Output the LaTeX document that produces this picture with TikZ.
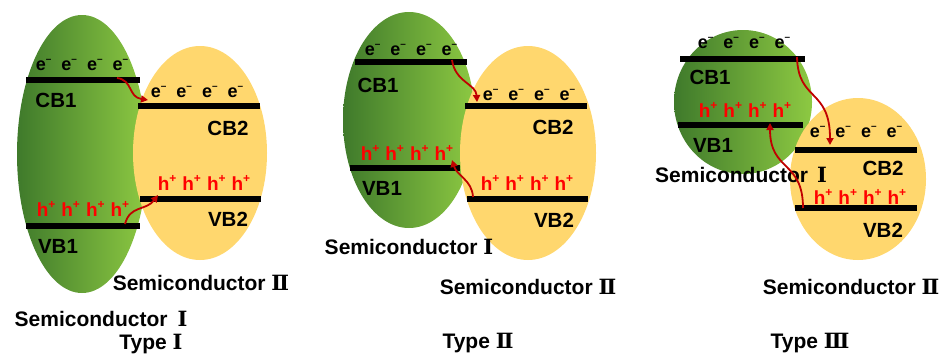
\documentclass[tikz,border=0pt]{standalone}
\usepackage{fontspec}
\setmainfont{Liberation Sans}
\newfontfamily\numfont{DejaVu Serif}
\usetikzlibrary{arrows.meta}
\definecolor{gdark}{HTML}{3F7A2B}
\definecolor{glight}{HTML}{8DC942}
\definecolor{yell}{HTML}{FFD76E}
\definecolor{arrowred}{HTML}{C00000}
\definecolor{holered}{HTML}{FF0000}
% charge carriers with raised signs
\newcommand\elc{e\raisebox{0.48em}{\fontsize{10}{10}\selectfont\textendash}}
\newcommand\hol{h\raisebox{0.45em}{\fontsize{12}{12}\selectfont +}}
\newcommand\erow{\elc\hspace{10pt}\elc\hspace{10pt}\elc\hspace{10pt}\elc}
\newcommand\hrow{\hol\hspace{6pt}\hol\hspace{6pt}\hol\hspace{6pt}\hol}
\newcommand\rmn[1]{{\numfont\bfseries #1}}
\begin{document}
\begin{tikzpicture}[x=1pt,y=-1pt,
  every node/.style={inner sep=0pt,font=\fontsize{19}{22}\selectfont\bfseries},
  bar/.style={fill=black,minimum height=6pt,anchor=west},
  elrow/.style={text=black,font=\fontsize{18}{22}\selectfont\bfseries},
  horow/.style={text=holered,font=\fontsize{19}{22}\selectfont\bfseries},
  band/.style={text=black,font=\fontsize{20.5}{22}\selectfont\bfseries},
  semi/.style={text=black,font=\fontsize{21}{24}\selectfont\bfseries},
  flow/.style={draw=arrowred,line width=1.8pt,-{Triangle[length=7pt,width=7pt]}},
  green ell/.style={left color=gdark,right color=glight},
  yellow ell/.style={fill=yell}]
\useasboundingbox (0,0) rectangle (944,356);

% ---------- Type I ----------
\path[green ell] (82,154) ellipse [x radius=65pt, y radius=139pt];
\path[yellow ell] (200,153) ellipse [x radius=67pt, y radius=107pt];
\node[bar,minimum width=114pt] (cb1a) at (26,80) {};
\node[bar,minimum width=122pt] (cb2a) at (138,106) {};
\node[bar,minimum width=121pt] (vb2a) at (140,199) {};
\node[bar,minimum width=114pt] (vb1a) at (26,226) {};
\node[elrow] (ea1) at (82,65) {\erow};
\node[elrow] (ea2) at (197,92) {\erow};
\node[horow] (ha2) at (204,183) {\hrow};
\node[horow] (ha1) at (83,209) {\hrow};
\node[band] (lcb1a) at (56,100) {CB1};
\node[band] (lcb2a) at (228,128) {CB2};
\node[band] (lvb2a) at (228,219) {VB2};
\node[band] (lvb1a) at (58,246) {VB1};
\node[semi] (s2a) at (201,283) {Semiconductor \rmn{Ⅱ}};
\node[semi] (s1a) at (101,319) {Semiconductor\hspace{10pt}\rmn{Ⅰ}};
\node[semi] (ta) at (151,344) {Type \rmn{Ⅰ}};
\coordinate (ea-s) at (117,78);
\coordinate (ea-e) at (148,100);
\coordinate (ha-s) at (125,224);
\coordinate (ha-e) at (158,195);
\draw[flow] (ea-s) .. controls (133,80) and (128,97) .. (ea-e);
\draw[flow] (ha-s) .. controls (130,205) and (146,211) .. (ha-e);

% ---------- Type II ----------
\path[green ell] (409,120) ellipse [x radius=66pt, y radius=108pt];
\path[yellow ell] (528,153) ellipse [x radius=68pt, y radius=107pt];
\node[bar,minimum width=112pt] (cb1b) at (355,62) {};
\node[bar,minimum width=122pt] (cb2b) at (465,106) {};
\node[bar,minimum width=110pt] (vb1b) at (350,168) {};
\node[bar,minimum width=121pt] (vb2b) at (467,199) {};
\node[elrow] (eb1) at (411,50) {\erow};
\node[elrow] (eb2) at (529,95) {\erow};
\node[horow] (hb1) at (407,153) {\hrow};
\node[horow] (hb2) at (527,183) {\hrow};
\node[band] (lcb1b) at (378,85) {CB1};
\node[band] (lcb2b) at (553,127) {CB2};
\node[band] (lvb1b) at (382,188) {VB1};
\node[band] (lvb2b) at (554,220) {VB2};
\node[semi] (s1b) at (409,247) {Semiconductor \rmn{Ⅰ}};
\node[semi] (s2b) at (528,287) {Semiconductor \rmn{Ⅱ}};
\node[semi] (tb) at (478,343) {Type \rmn{Ⅱ}};
\coordinate (eb-s) at (452,60);
\coordinate (eb-e) at (477,102);
\coordinate (hb-s) at (473,197);
\coordinate (hb-e) at (452,160);
\draw[flow] (eb-s) .. controls (455,82) and (476,84) .. (eb-e);
\draw[flow] (hb-s) .. controls (472,180) and (457,176) .. (hb-e);

% ---------- Type III ----------
\path[green ell] (743,102) ellipse [x radius=69pt, y radius=72pt];
\path[yellow ell] (858,179) ellipse [x radius=68pt, y radius=81pt];
\node[bar,minimum width=125pt] (cb1c) at (680,59) {};
\node[bar,minimum width=125pt] (vb1c) at (678,125) {};
\node[bar,minimum width=122pt] (cb2c) at (795,150) {};
\node[bar,minimum width=122pt] (vb2c) at (795,208) {};
\node[elrow] (ec1) at (744,43) {\erow};
\node[horow] (hc1) at (745,110) {\hrow};
\node[elrow] (ec2) at (856,132) {\erow};
\node[horow] (hc2) at (860,197) {\hrow};
\node[band] (lcb1c) at (710,77) {CB1};
\node[band] (lvb1c) at (713,145) {VB1};
\node[band] (lcb2c) at (883,168) {CB2};
\node[band] (lvb2c) at (883,230) {VB2};
\node[semi] (s1c) at (741,175) {Semiconductor\hspace{9pt}\rmn{Ⅰ}};
\node[semi] (s2c) at (851,287) {Semiconductor \rmn{Ⅱ}};
\node[semi] (tc) at (810,343) {Type \rmn{Ⅲ}};
\coordinate (ec-s) at (797,57);
\coordinate (ec-e) at (830,145);
\coordinate (hc-s) at (803,208);
\coordinate (hc-e) at (770,123);
\draw[flow] (ec-s) .. controls (798,102) and (830,88) .. (ec-e);
\draw[flow] (hc-s) .. controls (803,160) and (770,172) .. (hc-e);
\end{tikzpicture}
\end{document}
